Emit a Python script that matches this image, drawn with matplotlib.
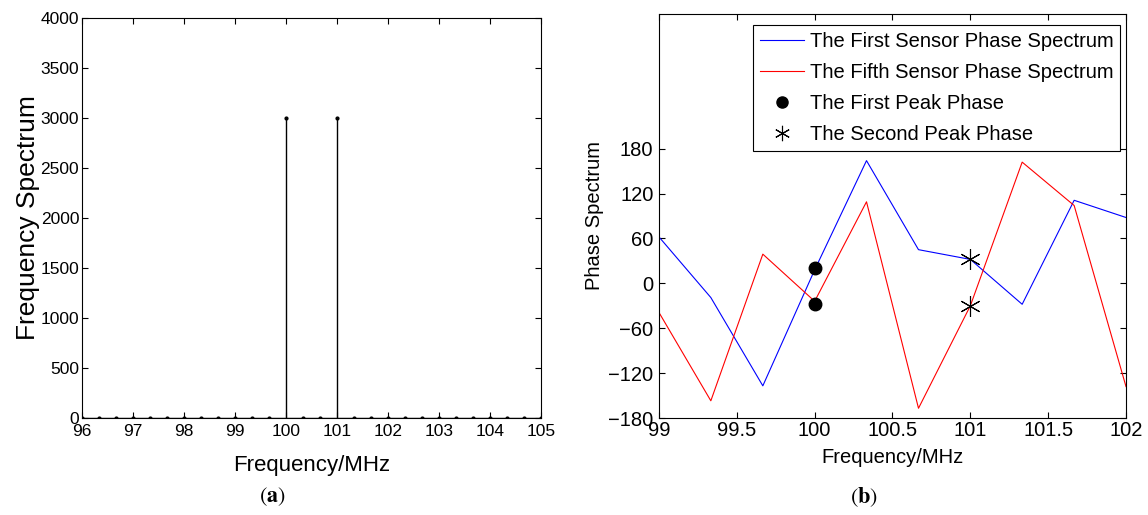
import matplotlib
matplotlib.use("Agg")
import matplotlib.pyplot as plt
from matplotlib.lines import Line2D

plt.rcParams['font.family'] = ['Liberation Sans', 'DejaVu Sans']
plt.rcParams['mathtext.fontset'] = 'stix'

# ---- data (a) ----
freq_a = [96.0, 96.333, 96.667, 97.0, 97.333, 97.667, 98.0, 98.333, 98.667,
          99.0, 99.333, 99.667, 100.0, 100.333, 100.667, 101.0, 101.333, 101.667,
          102.0, 102.333, 102.667, 103.0, 103.333, 103.667, 104.0, 104.333, 104.667, 105.0]
spec_a = [0, 0, 0, 0, 0, 0, 0, 0, 0,
          0, 0, 0, 3000, 0, 0, 3000, 0, 0,
          0, 0, 0, 0, 0, 0, 0, 0, 0, 0]
xticks_a = [96, 97, 98, 99, 100, 101, 102, 103, 104, 105]
yticks_a = [0, 500, 1000, 1500, 2000, 2500, 3000, 3500, 4000]

# ---- data (b) ----
freq_b = [99.0, 99.333, 99.667, 100.0, 100.333, 100.667, 101.0, 101.333, 101.667, 102.0]
phase_first = [62, -19, -137, 18, 164, 45, 32, -28, 111, 88]
phase_fifth = [-39, -157, 39, -24, 109, -167, -30, 162, 104, -138]
peak1_x = [100, 100]
peak1_y = [20, -28]
peak2_x = [101, 101]
peak2_y = [32, -30]
xticks_b = [99, 99.5, 100, 100.5, 101, 101.5, 102]
xticklabels_b = ['99', '99.5', '100', '100.5', '101', '101.5', '102']
yticks_b = [-180, -120, -60, 0, 60, 120, 180]
legend_labels = ['The First Sensor Phase Spectrum', 'The Fifth Sensor Phase Spectrum',
                 'The First Peak Phase', 'The Second Peak Phase']

W, H = 1148, 515
fig = plt.figure(figsize=(W / 100, H / 100), dpi=100)

def box(l, t, r, b):
    return [l / W, 1 - b / H, (r - l) / W, (b - t) / H]

# ---------- (a) ----------
ax1 = fig.add_axes(box(82, 18, 541, 418))
ml, sl, bl = ax1.stem(freq_a, spec_a, linefmt='k-', markerfmt='k.', basefmt='k-')
plt.setp(sl, linewidth=1.0)
plt.setp(ml, markersize=4)
plt.setp(bl, linewidth=1.0)
ax1.set_xlim(96, 105)
ax1.set_ylim(0, 4000)
ax1.set_xticks(xticks_a)
ax1.set_yticks(yticks_a)
ax1.tick_params(direction='in', top=True, right=True, length=4, width=0.8,
                labelsize=12.5)
ax1.tick_params(axis='x', pad=4)
ax1.tick_params(axis='y', pad=2)
ax1.set_xlabel('Frequency/MHz', fontsize=16, labelpad=12)
ax1.set_ylabel('Frequency Spectrum', fontsize=19, labelpad=0)
for s in ax1.spines.values():
    s.set_linewidth(0.8)

# ---------- (b) ----------
ax2 = fig.add_axes(box(659, 14, 1126, 418))
ax2.plot(freq_b, phase_first, color='#0000ff', linewidth=0.8)
ax2.plot(freq_b, phase_fifth, color='#ff0000', linewidth=0.8)
ax2.plot(peak1_x, peak1_y, linestyle='none', marker='o', color='black',
         markersize=9)
ax2.plot(peak2_x, peak2_y, linestyle='none', marker=(6, 2, 0), color='black',
         markersize=15, markeredgewidth=0.8)
ax2.set_xlim(99, 102)
ax2.set_ylim(-180, 360)
ax2.set_xticks(xticks_b)
ax2.set_xticklabels(xticklabels_b)
ax2.set_yticks(yticks_b)
ax2.tick_params(direction='in', top=True, right=True, length=4, width=0.8,
                labelsize=14.5)
ax2.tick_params(axis='x', pad=2)
ax2.tick_params(axis='y', pad=4)
ax2.set_xlabel('Frequency/MHz', fontsize=14.5, labelpad=6)
ax2.set_ylabel('Phase Spectrum', fontsize=14.5, labelpad=3)
for s in ax2.spines.values():
    s.set_linewidth(0.8)

handles = [Line2D([], [], color='#0000ff', linewidth=0.8),
           Line2D([], [], color='#ff0000', linewidth=0.8),
           Line2D([], [], linestyle='none', marker='o', color='black', markersize=8),
           Line2D([], [], linestyle='none', marker=(6, 2, 0), color='black',
                  markersize=11, markeredgewidth=0.8)]
leg = ax2.legend(handles, legend_labels, loc='upper right',
                 bbox_to_anchor=(0.988, 0.974), borderaxespad=0,
                 fontsize=14.5, frameon=True, fancybox=False, framealpha=1,
                 edgecolor='black', handlelength=2.15, handletextpad=0.3,
                 labelspacing=0.6, borderpad=0.35)
leg.get_frame().set_linewidth(0.8)

# captions
fig.text(272 / W, 1 - 497 / H, r'$(\mathbf{a})$', ha='center', va='center', fontsize=16)
fig.text(864 / W, 1 - 497 / H, r'$(\mathbf{b})$', ha='center', va='center', fontsize=16)

fig.savefig('out.png', dpi=100)
